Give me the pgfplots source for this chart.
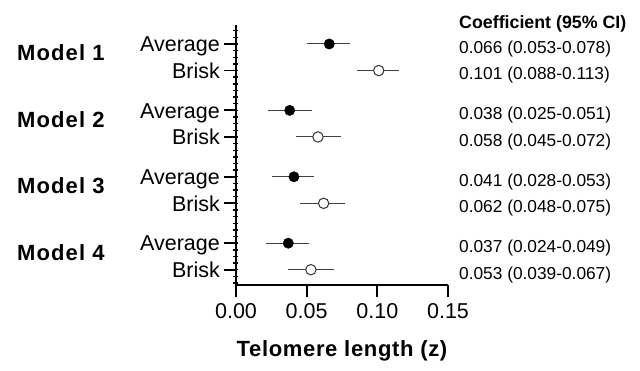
\documentclass[border=0pt]{standalone}
\usepackage{fontspec}
\setmainfont{Liberation Sans}
\newfontfamily\spaced[LetterSpace=5]{Liberation Sans}
\newfontfamily\spacedb[LetterSpace=3]{Liberation Sans}
\usepackage{pgfplots}
\pgfplotsset{compat=1.18}
\tikzset{modlab/.style={anchor=base west, inner sep=0pt, xshift=-219pt, font=\fontsize{22}{24}\selectfont\spaced\bfseries},
  coef/.style={anchor=base west, inner sep=0pt, xshift=11pt, font=\fontsize{17.3}{20}\selectfont}}
\begin{document}
\begin{tikzpicture}
\begin{axis}[
  scale only axis,
  width=212pt, height=260pt,
  xmin=0, xmax=0.15,
  ymin=-1.43, ymax=18.15,
  y dir=reverse,
  axis lines*=left,
  axis line style={line width=2pt, black},
  tick align=outside,
  major tick length=12pt,
  minor tick length=5pt,
  every tick/.style={black, line width=1.8pt},
  minor y tick style={xshift=2.5pt, line width=1.4pt},
  xtick={0,0.05,0.1,0.15},
  xticklabels={0.00,0.05,0.10,0.15},
  ytick={0,2,5,7,10,12,15,17},
  yticklabels={Average,Brisk,Average,Brisk,Average,Brisk,Average,Brisk},
  minor ytick={-1,-0.5,...,18},
  tick label style={font=\fontsize{21.5}{24}\selectfont},
  yticklabel style={anchor=base east, inner sep=4pt, yshift=-7.7pt},
  xticklabel style={yshift=-3pt},
  clip=false,
]
\addplot+[only marks, mark=*, mark size=5.2pt, black, mark options={fill=black, draw=black},
  error bars/.cd, x dir=both, x explicit, error mark=|,
  error mark options={mark size=3.5pt, line width=1pt, black!75, rotate=90},
  error bar style={line width=1pt, black!75}]
  coordinates {
  (0.066,0) += (0.012,0) -= (0.013,0)
  (0.038,5) += (0.013,0) -= (0.013,0)
  (0.041,10) += (0.012,0) -= (0.013,0)
  (0.037,15) += (0.012,0) -= (0.013,0)
  };
\addplot+[only marks, mark=*, mark size=5.2pt, black, mark options={fill=white, draw=black!80, line width=1pt},
  error bars/.cd, x dir=both, x explicit, error mark=|,
  error mark options={mark size=3.5pt, line width=1pt, black!75, rotate=90},
  error bar style={line width=1pt, black!75}]
  coordinates {
  (0.101,2) += (0.012,0) -= (0.013,0)
  (0.058,7) += (0.014,0) -= (0.013,0)
  (0.062,12) += (0.013,0) -= (0.014,0)
  (0.053,17) += (0.014,0) -= (0.014,0)
  };
% model labels
\node[modlab] at (axis cs:0,1.28) {Model 1};
\node[modlab] at (axis cs:0,6.28) {Model 2};
\node[modlab] at (axis cs:0,11.28) {Model 3};
\node[modlab] at (axis cs:0,16.28) {Model 4};
% header
\node[anchor=base west, inner sep=0pt, xshift=11pt, font=\fontsize{17.8}{20}\selectfont\bfseries]
  at (axis cs:0.15,-1.13) {Coefficient (95\% CI)};
% coefficient column
\node[coef] at (axis cs:0.15,0.7) {0.066 (0.053-0.078)};
\node[coef] at (axis cs:0.15,2.7) {0.101 (0.088-0.113)};
\node[coef] at (axis cs:0.15,5.7) {0.038 (0.025-0.051)};
\node[coef] at (axis cs:0.15,7.7) {0.058 (0.045-0.072)};
\node[coef] at (axis cs:0.15,10.7) {0.041 (0.028-0.053)};
\node[coef] at (axis cs:0.15,12.7) {0.062 (0.048-0.075)};
\node[coef] at (axis cs:0.15,15.7) {0.037 (0.024-0.049)};
\node[coef] at (axis cs:0.15,17.7) {0.053 (0.039-0.067)};
% x label
\node[anchor=base, inner sep=0pt, yshift=-71pt, font=\fontsize{22}{24}\selectfont\spacedb\bfseries]
  at (axis cs:0.075,18.15) {Telomere length (z)};
\end{axis}
\pgfresetboundingbox
\useasboundingbox (-236pt,-86pt) rectangle (404pt,285pt);
\end{tikzpicture}
\end{document}
